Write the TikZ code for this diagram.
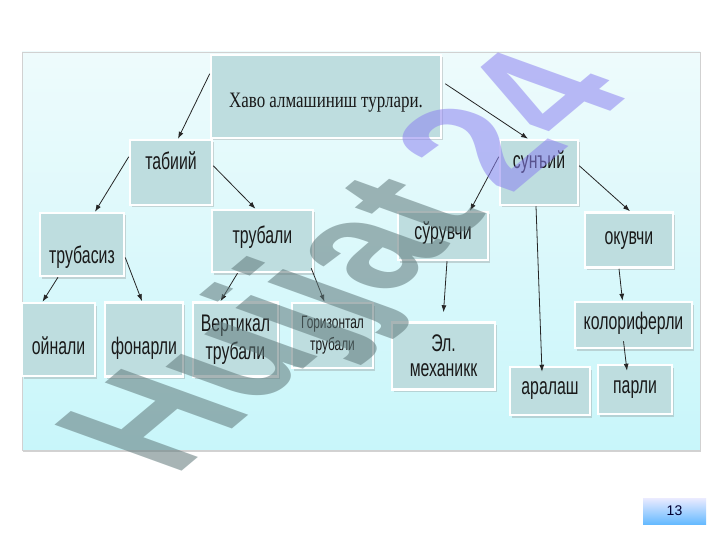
\documentclass[tikz,border=0pt]{standalone}
\usepackage{fontspec}
\setmainfont{Liberation Serif}
\newfontfamily\boxfont[FakeStretch=0.66]{Liberation Sans}
\newfontfamily\titlefont[FakeStretch=0.77]{Liberation Serif}
\newfontfamily\markfont[FakeStretch=0.87]{Liberation Sans}
\newfontfamily\pagefont{Liberation Sans}
\usetikzlibrary{arrows.meta}
\usetikzlibrary{shadows}
\definecolor{boxfill}{RGB}{190,221,223}
\definecolor{paneltop}{RGB}{238,251,252}
\definecolor{panelbot}{RGB}{200,246,250}
\definecolor{markgray}{RGB}{95,120,122}
\definecolor{markblue}{RGB}{140,130,240}

\begin{document}
\begin{tikzpicture}
	[x=1pt,y=-1pt,
	cell/.style = {
		draw=white, line width=2.5pt, fill=boxfill, inner sep=1pt,
		align=center, text=black!90,
		font=\boxfont\fontsize{24}{28}\selectfont,
		drop shadow={shadow xshift=2pt, shadow yshift=-2.5pt, opacity=0.3}
	},
	box/.style = {
		cell, text height=12.4pt, text depth=0pt
	},
	wire/.style = {
		-{Latex[length=7pt,width=5pt]}, line width=0.8pt, draw=black!85
	},
	panel/.style = {
		draw=black!18, line width=0.8pt, top color=paneltop, bottom color=panelbot,
		drop shadow={shadow xshift=1pt, shadow yshift=-2pt, opacity=0.35}
	},
	stamp/.style = {
		font=\markfont\bfseries\fontsize{170}{170}\selectfont,
		text opacity=0.55, inner sep=0pt
	},
	pagebox/.style = {
		top color=blue!8, bottom color=blue!45!cyan!60, inner sep=0pt,
		font=\pagefont\fontsize{14}{14}\selectfont, text=blue!20!black
	}]
	\useasboundingbox[fill=white] (0,0) rectangle (720,540);
	\clip (0,0) rectangle (720,540);
	\path[panel] (22,52) rectangle (700,450);
	
	%Draw nodes
	\node[box, minimum width=230, minimum height=83, text height=23pt,
		font=\titlefont\fontsize{22}{24}\selectfont] at (326,96.5) (title) {Хаво алмашиниш турлари.};
	\node[box, minimum width=82, minimum height=65, text height=0pt, text depth=6.6pt] at (171,172.5) (tab) {табиий};
	\node[box, minimum width=84, minimum height=63, text height=37.4pt] at (82,244.5) (trubasiz) {трубасиз};
	\node[box, minimum width=101, minimum height=62, text height=4.4pt] at (262.5,241) (trubali) {трубали};
	\node[box, minimum width=73, minimum height=73, text height=29.4pt] at (58.5,339.5) (oynali) {ойнали};
	\node[box, minimum width=78, minimum height=74, text height=29.4pt] at (144,339.5) (fonarli) {фонарли};
	\node[cell, minimum width=85, minimum height=74] at (235.5,339.5) (vert) {Вертикал\\трубали};
	\node[cell, minimum width=81, minimum height=65,
		font=\boxfont\fontsize{18}{22}\selectfont] at (332.5,335.5) (gor) {Горизонтал\\трубали};
	\node[box, minimum width=78, minimum height=65, text height=0pt, text depth=8.6pt] at (539,172.5) (sun) {сунъий};
	\node[box, minimum width=90, minimum height=48, text height=6.4pt] at (443,236) (sur) {сўрувчи};
	\node[box, minimum width=88, minimum height=55, text height=8.4pt] at (629,240) (oku) {окувчи};
	\node[cell, minimum width=103, minimum height=67,
		font=\boxfont\fontsize{24}{25}\selectfont] at (443.5,356) (elmex) {Эл.\\механикк};
	\node[box, minimum width=117, minimum height=46, text height=8.4pt] at (633.5,325) (kol) {колориферли};
	\node[box, minimum width=80, minimum height=48, text height=6.4pt] at (550,391) (aral) {аралаш};
	\node[box, minimum width=74, minimum height=49, text height=7.4pt] at (635,389.5) (parli) {парли};
	
	%Draw wires
	\draw[wire] ([yshift=-20pt]title.north west) -- ([xshift=7pt]tab.north);
	\draw[wire] ([xshift=3pt,yshift=-30pt]title.north east) -- ([xshift=-11pt]sun.north);
	\draw[wire] ([yshift=-18pt]tab.north west) -- ([xshift=13pt]trubasiz.north);
	\draw[wire] ([yshift=-27pt]tab.north east) -- ([xshift=-7pt]trubali.north);
	\draw[wire] ([xshift=-24pt]trubasiz.south) -- ([xshift=-16pt]oynali.north);
	\draw[wire] ([yshift=-13pt]trubasiz.east) -- ([xshift=-2pt]fonarli.north);
	\draw[wire] ([xshift=-25pt]trubali.south) -- ([xshift=-15pt]vert.north);
	\draw[wire] ([xshift=-3pt,yshift=5pt]trubali.south east) -- ([xshift=-8pt]gor.north);
	\draw[wire] ([yshift=-18pt]sun.north west) -- ([xshift=27pt]sur.north);
	\draw[wire] ([yshift=-27pt]sun.north east) -- ([xshift=1pt]oku.north);
	\draw[wire] ([xshift=-3pt]sun.south) -- ([xshift=-8pt,yshift=-6pt]aral.north);
	\draw[wire] ([xshift=4pt]sur.south) -- ([yshift=9pt]elmex.north);
	\draw[wire] ([xshift=-10pt]oku.south) -- ([xshift=-11pt]kol.north);
	\draw[wire] ([xshift=-10pt,yshift=8pt]kol.south) -- ([xshift=-8pt,yshift=-7pt]parli.north);
	
	%Watermark and page number
	\node[stamp, rotate=40, xslant=-0.58] at (358,266) (wm) {\color{markgray}Hujjat\,\color{markblue}24};
	\node[pagebox, minimum width=63, minimum height=26] at (674.5,511) (page) {13};
\end{tikzpicture}
\end{document}
